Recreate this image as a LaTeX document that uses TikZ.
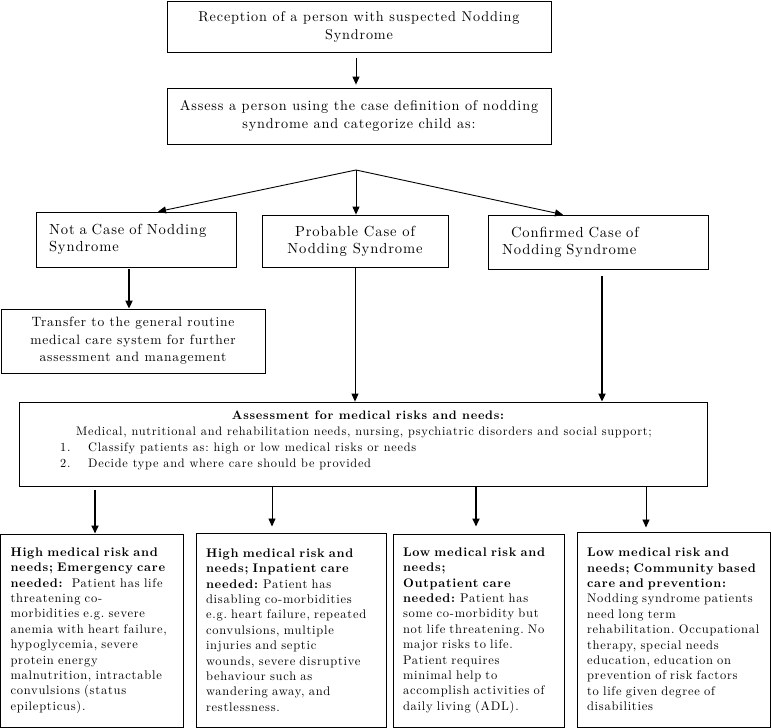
\documentclass[tikz,border=0pt]{standalone}
\usepackage{fontspec}
\setmainfont{lmroman10-regular.otf}[BoldFont=lmroman10-bold.otf, ItalicFont=lmroman10-italic.otf, LetterSpace=6]
\usetikzlibrary{arrows.meta}
\frenchspacing
\newcommand\ftopx{\fontsize{14.2pt}{18pt}\selectfont}
\newcommand\fmidx{\fontsize{14.6pt}{17pt}\selectfont}
\newcommand\ftrx{\fontsize{13.5pt}{17.5pt}\selectfont}
\newcommand\fasx{\fontsize{12.3pt}{16pt}\selectfont}
\newcommand\fbotx{\fontsize{12.5pt}{15.4pt}\selectfont\frenchspacing}
\tikzset{
  box/.style={draw, line width=0.8pt, inner sep=0pt, align=center},
  bbox/.style={draw, line width=1pt, inner ysep=0pt, inner xsep=10pt, align=left, font=\fbotx},
  arr/.style={line width=0.9pt, -{Triangle[length=8pt,width=7pt]}},
  arrthick/.style={line width=1.8pt, -{Triangle[length=8pt,width=7pt]}},
  intext/.style={inner sep=0pt, font=\fasx}
}
\begin{document}
\begin{tikzpicture}[x=1pt,y=-1pt]
\useasboundingbox (0,0) rectangle (771,728);

% top boxes
\node[box, font=\ftopx, minimum width=384, minimum height=51] (rec) at (359,26.5)
  {Reception of a person with suspected Nodding\\Syndrome};
\node[box, font=\ftopx, minimum width=384, minimum height=56] (cat) at (359,116)
  {Assess a person using the case definition of nodding\\syndrome and categorize child as:};
\coordinate (apex) at (356,170);
\draw[arr, shorten <=6pt, shorten >=3pt] (rec.south -| apex) -- (cat.north -| apex);

% category boxes
\node[box, font=\fmidx, align=left, text width=174, inner xsep=13, minimum height=55] (nac) at (136,239.5)
  {Not a Case of Nodding\\Syndrome};
\node[box, font=\fmidx, minimum width=186, minimum height=52] (prob) at (355,241)
  {Probable Case of\\Nodding Syndrome};
\node[box, font=\fmidx, align=left, text width=192, inner xsep=14, minimum height=54] (conf) at (598,242)
  {\hspace*{9pt}Confirmed Case of\\Nodding Syndrome};

\draw[arr] (apex) -- ([xshift=22pt]nac.north);
\draw[arr] (apex) -- (prob.north -| apex);
\draw[arr] (apex) -- ([xshift=-35pt]conf.north);

% transfer
\node[box, font=\ftrx, minimum width=264, minimum height=64] (trans) at (133,341)
  {Transfer to the general routine\\medical care system for further\\assessment and management};
\path ([xshift=-7pt]nac.south) coordinate (n1);
\draw[arrthick, shorten <=2pt] (n1) -- (n1 |- trans.north);

% assessment
\node[box, minimum width=688, minimum height=84] (assess) at (363,444) {};
\node[intext, font=\fasx\bfseries, anchor=base] (at1) at (368,419) {Assessment for medical risks and needs:};
\node[intext, anchor=base] (at2) at (364,435) {Medical, nutritional and rehabilitation needs, nursing, psychiatric disorders and social support;};
\node[intext, anchor=base west] (nm1) at (60,451) {1.};
\node[intext, anchor=base west] (at3) at (88,451) {Classify patients as: high or low medical risks or needs};
\node[intext, anchor=base west] (nm2) at (60,467) {2.};
\node[intext, anchor=base west] (at4) at (88,467) {Decide type and where care should be provided};

\draw[arr] (prob.south) -- (prob.south |- assess.north);
\path ([xshift=4pt,yshift=-7pt]conf.south) coordinate (c1);
\draw[arrthick] (c1) -- (c1 |- assess.north);

% bottom boxes
\node[bbox, text width=163, minimum height=193] (b1) at (92,630.5)
  {\textbf{High medical risk and}\\
   \textbf{needs; Emergency care}\\
   \textbf{needed:}\ \ Patient has life\\
   threatening co-\\
   morbidities e.g. severe\\
   anemia with heart failure,\\
   hypoglycemia, severe\\
   protein energy\\
   malnutrition, intractable\\
   convulsions (status\\
   epilepticus).};
\node[bbox, text width=170, minimum height=194] (b2) at (291,630)
  {\textbf{High medical risk and}\\
   \textbf{needs; Inpatient care}\\
   \textbf{needed:} Patient has\\
   disabling co-morbidities\\
   e.g. heart failure, repeated\\
   convulsions, multiple\\
   injuries and septic\\
   wounds, severe disruptive\\
   behaviour such as\\
   wandering away, and\\
   restlessness.};
\node[bbox, text width=151, minimum height=193] (b3) at (478.5,630.5)
  {\textbf{Low medical risk and}\\
   \textbf{needs;}\\
   \textbf{Outpatient care}\\
   \textbf{needed:} Patient has\\
   some co-morbidity but\\
   not life threatening. No\\
   major risks to life.\\
   Patient requires\\
   minimal help to\\
   accomplish activities of\\
   daily living (ADL).};
\node[bbox, text width=173, minimum height=195] (b4) at (673.5,629.5)
  {\textbf{Low medical risk and}\\
   \textbf{needs; Community based}\\
   \textbf{care and prevention:}\\
   Nodding syndrome patients\\
   need long term\\
   rehabilitation. Occupational\\
   therapy, special needs\\
   education, education on\\
   prevention of risk factors\\
   to life given degree of\\
   disabilities};

\coordinate (d1) at ([xshift=3pt]b1.north);
\coordinate (d2) at ([xshift=-19pt]b2.north);
\coordinate (d3) at ([xshift=-2.5pt]b3.north);
\coordinate (d4) at ([xshift=-27.5pt]b4.north);
\draw[arrthick, shorten <=4pt] (d1 |- assess.south) -- (d1);
\draw[arr, shorten >=6pt] (d2 |- assess.south) -- (d2);
\draw[arrthick, shorten >=7pt] (d3 |- assess.south) -- (d3);
\draw[arr, shorten >=4pt] (d4 |- assess.south) -- (d4);
\end{tikzpicture}
\end{document}
